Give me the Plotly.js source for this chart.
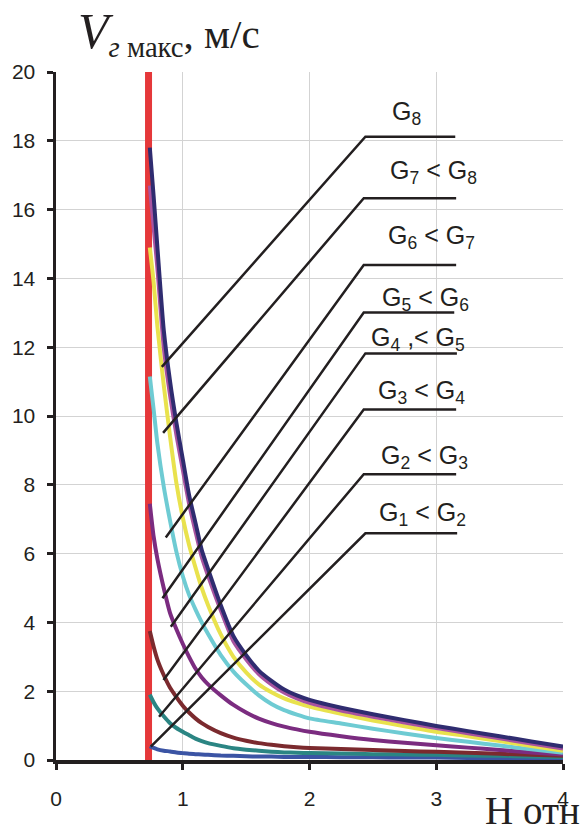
<!DOCTYPE html>
<html>
<head>
<meta charset="utf-8">
<script src="https://cdn.plot.ly/plotly-3.0.1.min.js"></script>
<style>
  html, body { margin: 0; padding: 0; background: #ffffff; }
  #chart { width: 584px; height: 834px; }
</style>
</head>
<body>
<div id="chart"></div>
<script>
// ---------- DATA ----------
const hOtn = [0.74,0.77,0.80,0.85,0.90,0.95,1.00,1.05,1.10,1.15,1.20,1.30,1.40,1.50,1.60,1.70,1.80,1.90,2.00,2.25,2.50,2.75,3.00,3.25,3.50,3.75,4.00];

const vG1 = [0.4,0.35,0.31,0.27,0.25,0.22,0.2,0.18,0.17,0.16,0.15,0.13,0.12,0.11,0.1,0.1,0.09,0.09,0.09,0.08,0.08,0.07,0.07,0.06,0.05,0.05,0.04];
const vG2 = [1.9,1.68,1.5,1.27,1.07,0.93,0.82,0.72,0.62,0.55,0.49,0.41,0.34,0.3,0.27,0.24,0.22,0.21,0.2,0.19,0.17,0.16,0.15,0.13,0.12,0.1,0.09];
const vG3 = [3.75,3.3,2.92,2.47,2.1,1.83,1.58,1.38,1.21,1.07,0.96,0.78,0.65,0.56,0.49,0.44,0.4,0.37,0.35,0.32,0.29,0.26,0.24,0.21,0.18,0.15,0.12];
const vG4 = [7.45,6.5,5.85,5.0,4.27,3.8,3.38,3.0,2.66,2.4,2.2,1.88,1.6,1.38,1.2,1.07,0.97,0.89,0.82,0.69,0.58,0.5,0.43,0.36,0.29,0.22,0.16];
const vG5 = [11.15,10.2,9.2,7.95,6.95,6.05,5.35,4.8,4.38,4.0,3.66,3.05,2.57,2.2,1.88,1.63,1.45,1.32,1.21,1.06,0.91,0.77,0.64,0.53,0.42,0.31,0.21];
const vG6 = [14.9,13.9,12.6,10.9,9.4,8.05,7.05,6.25,5.6,5.0,4.5,3.65,3.0,2.55,2.2,1.97,1.79,1.66,1.55,1.34,1.15,0.98,0.82,0.69,0.55,0.41,0.27];
const vG7 = [16.7,15.5,14.3,12.0,10.6,9.45,8.45,7.45,6.65,5.9,5.35,4.35,3.45,2.93,2.5,2.2,1.96,1.79,1.66,1.44,1.26,1.09,0.93,0.78,0.63,0.48,0.33];
const vG8 = [17.8,16.4,14.9,12.5,11.0,9.8,8.75,7.7,6.9,6.1,5.55,4.5,3.6,3.05,2.6,2.3,2.05,1.88,1.75,1.52,1.33,1.16,0.99,0.84,0.69,0.54,0.39];

const boundaryX = [0.73];

const labelTexts = [
  "G<sub>1</sub> &lt; G<sub>2</sub>",
  "G<sub>2</sub> &lt; G<sub>3</sub>",
  "G<sub>3</sub> &lt; G<sub>4</sub>",
  "G<sub>4</sub> ,&lt; G<sub>5</sub>",
  "G<sub>5</sub> &lt; G<sub>6</sub>",
  "G<sub>6</sub> &lt; G<sub>7</sub>",
  "G<sub>7</sub> &lt; G<sub>8</sub>",
  "G<sub>8</sub>"
];

const xTicks = [0,1,2,3,4];
const yTicks = [0,2,4,6,8,10,12,14,16,18,20];

// ---------- STYLE / LAYOUT ----------
const colors = ["#3b54a4","#2b8583","#7b2a2e","#7b2c80","#6ecbd3","#e9e24d","#a8539f","#2f2c70"];
const series = [vG1,vG2,vG3,vG4,vG5,vG6,vG7,vG8];
const ink = "#231f20";

const traces = [{
  x: [boundaryX[0], boundaryX[0]], y: [0, 20], mode: "lines",
  line: {color: "#e5383a", width: 7}, hoverinfo: "skip", showlegend: false
}];
series.forEach((s, i) => {
  traces.push({
    x: hOtn, y: s, mode: "lines",
    line: {color: colors[i], width: 4, shape: "spline", smoothing: 0.6},
    hoverinfo: "skip", showlegend: false
  });
});

// leader-line geometry (start on curve, corner, end of underline), in axis units
const leaders = [
  [0.748,0.387, 2.441,6.59, 3.165],
  [0.813,1.259, 2.428,8.31, 3.157],
  [0.848,2.326, 2.428,10.19, 3.157],
  [0.906,3.875, 2.441,11.82, 3.163],
  [0.840,4.70, 2.428,13.01, 3.142],
  [0.866,6.47, 2.428,14.39, 3.157],
  [0.845,9.51, 2.428,16.33, 3.157],
  [0.835,11.43, 2.441,18.12, 3.150]
];
const labelPos = [
  [2.89, 7.15], [2.906, 8.81], [2.882, 10.70], [2.858, 12.24],
  [2.913, 13.40], [2.96, 15.2], [2.976, 17.08], [2.764, 18.81]
];

const shapes = leaders.map(l => ({
  type: "path", xref: "x", yref: "y", layer: "above",
  path: `M${l[0]},${l[1]} L${l[2]},${l[3]} L${l[4]},${l[3]}`,
  line: {color: ink, width: 2.5}
}));

const annotations = labelTexts.map((t, i) => ({
  text: t, xref: "x", yref: "y", x: labelPos[i][0], y: labelPos[i][1],
  xanchor: "center", yanchor: "middle", showarrow: false,
  font: {family: "Liberation Sans, Arial, sans-serif", size: 25, color: ink}
}));

annotations.push({
  text: '<span style="font-size:50px"><i>V</i></span><sub><i>г</i> макс</sub>, м/с',
  xref: "paper", yref: "paper", x: 0.040, y: 1.103, xanchor: "left", yanchor: "top",
  showarrow: false,
  font: {family: "Liberation Serif, Times New Roman, serif", size: 41, color: ink}
});
annotations.push({
  text: "Н отн",
  xref: "paper", yref: "paper", x: 1.0375, y: -0.107, xanchor: "right", yanchor: "bottom",
  showarrow: false,
  font: {family: "Liberation Serif, Times New Roman, serif", size: 39, color: ink}
});

const tickFont = {family: "Liberation Sans, Arial, sans-serif", size: 21, color: ink};

const layout = {
  width: 584, height: 834,
  margin: {l: 56, r: 21, t: 72, b: 74, pad: 0},
  paper_bgcolor: "#ffffff", plot_bgcolor: "#ffffff",
  showlegend: false,
  xaxis: {
    range: [0, 4], tickmode: "array", tickvals: xTicks, ticktext: xTicks.map(String),
    showgrid: true, gridcolor: "#d3d3d3", gridwidth: 1, zeroline: false,
    showline: true, linecolor: ink, linewidth: 3.5,
    ticks: "outside", ticklen: 6, tickwidth: 3, tickcolor: ink,
    tickfont: tickFont, ticklabelstandoff: 11, fixedrange: true
  },
  yaxis: {
    range: [0, 20], tickmode: "array", tickvals: yTicks, ticktext: yTicks.map(String),
    showgrid: true, gridcolor: "#d3d3d3", gridwidth: 1, zeroline: false,
    showline: true, linecolor: ink, linewidth: 3.5,
    ticks: "outside", ticklen: 6, tickwidth: 3, tickcolor: ink,
    tickfont: tickFont, ticklabelstandoff: 7, fixedrange: true
  },
  shapes: shapes,
  annotations: annotations
};

Plotly.newPlot("chart", traces, layout, {displayModeBar: false, staticPlot: true});
</script>
</body>
</html>
